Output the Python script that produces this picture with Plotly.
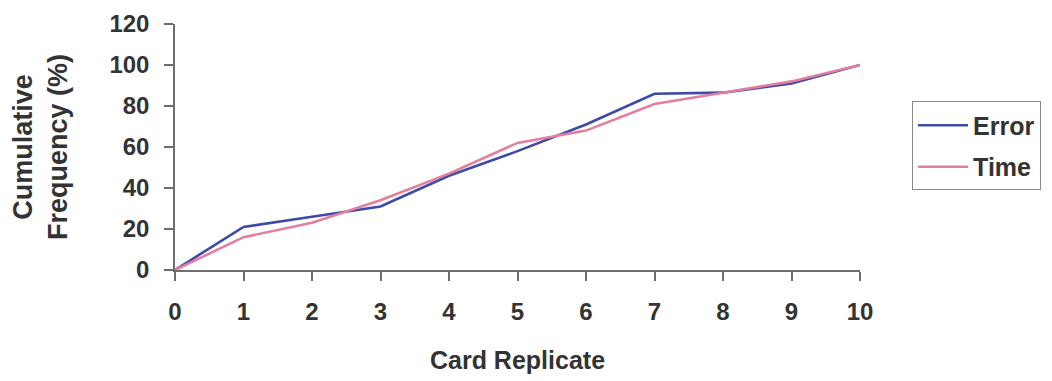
import plotly.graph_objects as go

# Cumulative frequency by card replicate
replicates = [0, 1, 2, 3, 4, 5, 6, 7, 8, 9, 10]
error_pct = [0, 21, 26, 31, 46, 58, 71, 86, 86.5, 91, 100]
time_pct = [0, 16, 23, 34, 47, 62, 68, 81, 86.5, 92, 100]
y_ticks = [0, 20, 40, 60, 80, 100, 120]

font_family = "Liberation Sans, Arial, sans-serif"
text_color = "#333333"
axis_color = "#6e6e6e"

fig = go.Figure()
fig.add_trace(go.Scatter(x=replicates, y=error_pct, name="Error", mode="lines",
                         legendgroup="error",
                         line=dict(color="#3e4aa6", width=2.6)))
fig.add_trace(go.Scatter(x=replicates, y=time_pct, name="Time", mode="lines",
                         legendgroup="time",
                         line=dict(color="#e27f9e", width=2.6)))

fig.update_layout(
    width=1052, height=381,
    margin=dict(l=175, r=192, t=24, b=111, autoexpand=False),
    paper_bgcolor="white", plot_bgcolor="white",
    font=dict(family=font_family, size=24, color=text_color),
    legend=dict(x=1.076, y=0.685, xanchor="left", yanchor="top",
                bordercolor="#8a8a8a", borderwidth=1, bgcolor="white",
                font=dict(size=25, color=text_color, weight="bold"),
                traceorder="grouped", tracegroupgap=6, itemwidth=50),
    showlegend=True,
)
fig.update_xaxes(
    automargin=False,
    range=[0, 10], tickvals=replicates, showgrid=False, zeroline=False,
    showline=True, linecolor=axis_color, linewidth=1.5,
    ticks="outside", ticklen=9, tickcolor=axis_color, tickwidth=1.5,
    tickfont=dict(size=24, weight="bold"), ticklabelstandoff=10,
    title=dict(text="Card Replicate", font=dict(size=25, weight="bold"), standoff=28),
)
fig.update_yaxes(
    automargin=False,
    range=[0, 120], tickvals=y_ticks, showgrid=False, zeroline=False,
    showline=True, linecolor=axis_color, linewidth=1.5,
    ticks="outside", ticklen=9, tickcolor=axis_color, tickwidth=1.5,
    tickfont=dict(size=24, weight="bold"), ticklabelstandoff=10,
    title=dict(text="Cumulative<br>Frequency (%)", font=dict(size=27, weight="bold"), standoff=34),
)

fig.write_html("out.html")
